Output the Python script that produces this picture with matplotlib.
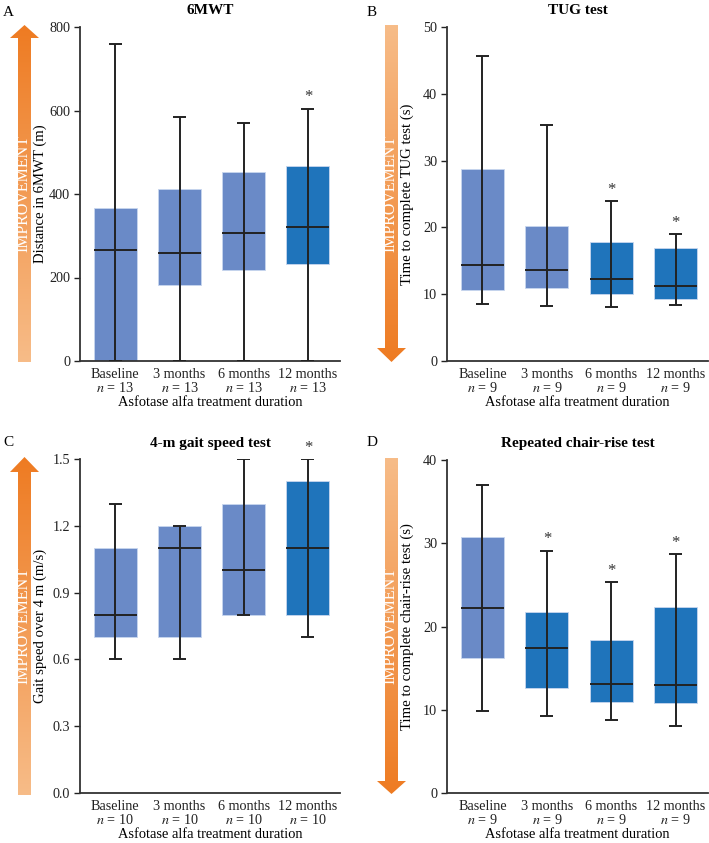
import matplotlib
matplotlib.use("Agg")
import matplotlib.pyplot as plt
import numpy as np
from matplotlib.patches import Polygon
from matplotlib.colors import LinearSegmentedColormap

plt.rcParams['font.family'] = ['Liberation Serif', 'DejaVu Serif']
plt.rcParams['mathtext.fontset'] = 'stix'

W, H = 709, 843

groups = ["Baseline", "3 months", "6 months", "12 months"]

# 6MWT
a_n = [13, 13, 13, 13]
a_low = [0, 0, 0, 0]
a_q1 = [0, 181, 217, 233]
a_med = [267, 259, 306, 320]
a_q3 = [367, 413, 452, 468]
a_high = [760, 585, 571, 604]
a_sig = [False, False, False, True]

# TUG test
b_n = [9, 9, 9, 9]
b_low = [8.6, 8.3, 8.1, 8.4]
b_q1 = [10.7, 11.0, 10.1, 9.3]
b_med = [14.3, 13.6, 12.3, 11.3]
b_q3 = [28.8, 20.2, 17.8, 16.9]
b_high = [45.6, 35.3, 23.9, 19.0]
b_sig = [False, False, True, True]

# 4-m gait speed
c_n = [10, 10, 10, 10]
c_low = [0.6, 0.6, 0.8, 0.7]
c_q1 = [0.7, 0.7, 0.8, 0.8]
c_med = [0.8, 1.1, 1.0, 1.1]
c_q3 = [1.1, 1.2, 1.3, 1.4]
c_high = [1.3, 1.2, 1.5, 1.5]
c_sig = [False, False, False, True]

# Repeated chair-rise
d_n = [9, 9, 9, 9]
d_low = [9.8, 9.3, 8.8, 8.1]
d_q1 = [16.2, 12.6, 10.9, 10.8]
d_med = [22.2, 17.4, 13.1, 13.0]
d_q3 = [30.8, 21.8, 18.4, 22.4]
d_high = [37.0, 29.1, 25.3, 28.7]
d_sig = [False, True, True, True]

LIGHT = "#6a8ac7"
DARK = "#1f74bb"
LINE = "#222222"

fig = plt.figure(figsize=(W / 100, H / 100), dpi=100)


def px_axes(x0, y0, x1, y1):
    return fig.add_axes([x0 / W, 1 - y1 / H, (x1 - x0) / W, (y1 - y0) / H])


def boxpanel(ax, n, low, q1, med, q3, high, sig, ymax, yticks, yfmt, ylabel, title, letter, span):
    x = np.arange(len(groups))
    colors = [DARK if s else LIGHT for s in sig]
    ax.bar(x, np.array(q3) - np.array(q1), bottom=q1, width=0.67, color=colors,
           edgecolor="#c8d6ee", linewidth=0.6, zorder=2)
    ax.vlines(x, low, high, color=LINE, lw=1.4, zorder=3)
    ax.hlines(high, x - 0.1, x + 0.1, color=LINE, lw=1.4, zorder=3)
    ax.hlines(low, x - 0.1, x + 0.1, color=LINE, lw=1.4, zorder=3)
    ax.hlines(med, x - 0.335, x + 0.335, color=LINE, lw=1.4, zorder=3)
    for i, s in enumerate(sig):
        if s:
            ax.text(x[i], high[i] + ymax * 0.01, "*", ha="center", va="bottom",
                    fontsize=12, color="#333333")
    ax.set_xlim(-0.55, 3.5)
    ax.set_ylim(0, ymax)
    ax.set_yticks(yticks)
    ax.set_yticklabels([yfmt.format(t) for t in yticks])
    ax.set_xticks(x)
    ax.set_xticklabels([f"{g}\n$n$ = {k}" for g, k in zip(groups, n)], linespacing=1.0)
    ax.tick_params(axis="x", length=0, labelsize=10.2, pad=5, colors="#222222")
    ax.tick_params(axis="y", length=4, width=1, labelsize=10.2, pad=3, colors="#222222")
    for s in ["top", "right"]:
        ax.spines[s].set_visible(False)
    for s in ["left", "bottom"]:
        ax.spines[s].set_linewidth(1.3)
        ax.spines[s].set_color("#333333")
    ax.set_xlabel("Asfotase alfa treatment duration", fontsize=10.4, labelpad=1)
    ax.set_ylabel(ylabel, fontsize=10.6)
    ax.yaxis.set_label_coords(-0.126, 0.5)
    ax.set_title(title, fontsize=11, fontweight="bold", pad=9)
    fig.text(span[0] / W, 1 - span[1] / H, letter, fontsize=11, ha="left", va="center")


def gradient_arrow(x0, x1, y0, y1, up, head_h, shaft_w):
    ax = px_axes(x0, y0, x1, y1)
    ax.set_xlim(0, 1)
    ax.set_ylim(0, 1)
    ax.axis("off")
    hh = head_h / (y1 - y0)
    sw = shaft_w / (x1 - x0) / 2
    if up:
        pts = [(0.5 - sw, 0), (0.5 + sw, 0), (0.5 + sw, 1 - hh), (1, 1 - hh),
               (0.5, 1), (0, 1 - hh), (0.5 - sw, 1 - hh)]
    else:
        pts = [(0.5 - sw, 1), (0.5 + sw, 1), (0.5 + sw, hh), (1, hh),
               (0.5, 0), (0, hh), (0.5 - sw, hh)]
    cmap = LinearSegmentedColormap.from_list("org", ["#f7bc88", "#ee7b22"])
    grad = np.linspace(0, 1, 256).reshape(-1, 1)
    if not up:
        grad = grad[::-1]
    im = ax.imshow(grad, extent=(0, 1, 0, 1), origin="lower", aspect="auto", cmap=cmap)
    poly = Polygon(pts, closed=True, transform=ax.transData, facecolor="none", edgecolor="none")
    ax.add_patch(poly)
    im.set_clip_path(poly)
    ax.text(0.45, 0.5, "IMPROVEMENT", rotation=90, ha="center", va="center",
            color="white", fontsize=11.5)


axA = px_axes(80, 27, 340, 361)
boxpanel(axA, a_n, a_low, a_q1, a_med, a_q3, a_high, a_sig, 800, [0, 200, 400, 600, 800],
         "{:.0f}", "Distance in 6MWT (m)", "6MWT", "A", (3, 12))
axB = px_axes(447, 27, 708, 361)
boxpanel(axB, b_n, b_low, b_q1, b_med, b_q3, b_high, b_sig, 50, [0, 10, 20, 30, 40, 50],
         "{:.0f}", "Time to complete TUG test (s)", "TUG test", "B", (367, 12))
axC = px_axes(80, 459, 340, 793)
boxpanel(axC, c_n, c_low, c_q1, c_med, c_q3, c_high, c_sig, 1.5, [0.0, 0.3, 0.6, 0.9, 1.2, 1.5],
         "{:.1f}", "Gait speed over 4 m (m/s)", "4-m gait speed test", "C", (3, 443))
axD = px_axes(447, 460, 708, 793)
boxpanel(axD, d_n, d_low, d_q1, d_med, d_q3, d_high, d_sig, 40, [0, 10, 20, 30, 40],
         "{:.0f}", "Time to complete chair-rise test (s)", "Repeated chair-rise test", "D", (367, 443))

gradient_arrow(10, 39, 25, 362, True, 13, 13)
gradient_arrow(377, 406, 25, 362, False, 14, 13)
gradient_arrow(10, 39, 457, 795, True, 15, 13)
gradient_arrow(377, 406, 458, 794, False, 13, 13)

fig.savefig("out.png", dpi=100)
